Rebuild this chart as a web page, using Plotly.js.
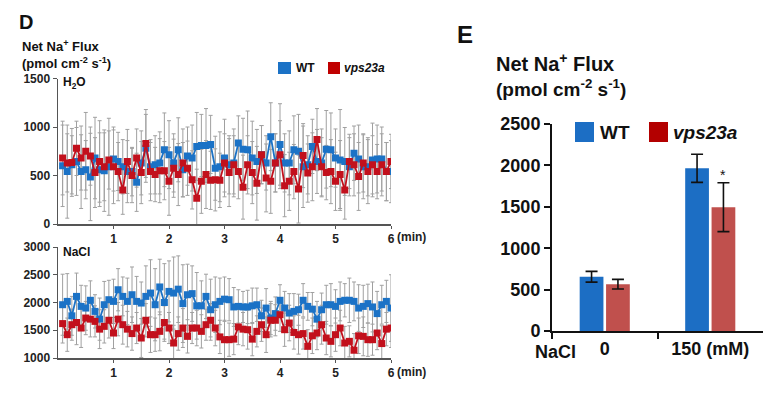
<!DOCTYPE html>
<html>
<head>
<meta charset="utf-8">
<script src="https://cdn.plot.ly/plotly-3.0.1.min.js"></script>
<style>html,body{margin:0;padding:0;background:#fff;}#chart{width:779px;height:397px;}</style>
</head>
<body>
<div id="chart"></div>
<script>
// ---- Panel D data: time (s) and net Na+ flux ----
var timeSec = [
  5,10,15,20,25,30,35,40,45,50,55,60,
  65,70,75,80,85,90,95,100,105,110,115,120,
  125,130,135,140,145,150,155,160,165,170,175,180,
  185,190,195,200,205,210,215,220,225,230,235,240,
  245,250,255,260,265,270,275,280,285,290,295,300,
  305,310,315,320,325,330,335,340,345,350,355,360
];
var h2oWT = [
  600,540,610,645,540,560,485,680,560,550,590,670,
  645,590,540,540,430,630,780,590,610,630,765,715,
  630,765,560,700,680,800,810,810,820,575,590,680,
  610,630,835,770,765,680,645,715,630,900,630,820,
  630,630,765,750,590,610,800,645,630,770,765,680,
  660,645,590,730,670,590,590,660,670,670,540,540
];
var h2oWTerr = [
  420,480,300,350,380,300,450,420,380,420,500,330,
  300,280,320,250,300,330,350,280,300,320,380,350,
  300,330,280,300,340,350,320,380,300,330,360,400,
  300,350,280,320,400,380,330,300,280,350,300,420,
  300,330,350,380,420,300,280,330,350,400,380,300,
  520,350,300,280,350,330,300,380,350,330,300,320
];
var h2oMut = [
  680,630,635,780,680,750,700,530,645,590,660,590,
  540,350,645,500,680,530,830,540,510,550,550,440,
  575,510,630,575,455,265,440,510,450,455,450,630,
  530,610,540,380,610,530,420,715,475,440,630,715,
  395,440,540,360,705,525,590,870,590,530,540,440,
  510,350,645,610,490,630,540,610,540,610,540,645
];
var h2oMutErr = [
  380,300,350,280,330,400,300,360,420,350,300,380,
  300,250,330,280,300,320,350,300,280,330,300,350,
  300,320,350,280,300,300,330,350,300,320,280,300,
  350,300,280,330,300,320,380,300,350,330,300,350,
  320,300,280,350,330,300,350,320,300,280,330,300,
  350,300,280,320,350,300,330,300,280,320,300,280
];
var naclWT = [
  1960,2020,1760,2110,1930,1900,2040,1840,1700,1960,2050,2020,
  2230,2110,2020,2140,2020,1990,2110,2170,1960,2280,2000,2200,
  2170,2240,1980,2140,2160,1940,1940,2110,1870,1960,2020,2060,
  2050,1920,1930,1920,1920,1940,1960,1760,1900,1720,1800,2040,
  1900,1810,1840,1870,2040,1930,1880,1700,1870,1960,1960,1930,
  2020,2040,2040,2020,1900,1930,1980,1920,1800,1960,2020,1900
];
var naclWTerr = [
  550,500,350,420,380,400,350,300,380,420,350,400,
  380,350,420,500,450,380,550,600,650,500,700,550,
  650,600,700,550,500,600,450,400,550,500,420,400,
  380,350,300,280,300,320,300,280,350,300,300,280,
  300,350,320,280,300,250,300,320,300,350,380,300,
  350,300,400,350,420,380,350,450,400,350,380,600
];
var naclMut = [
  1620,1420,1600,1640,1540,1720,1700,1660,1520,1570,1680,1450,
  1700,1600,1520,1440,1540,1360,1680,1420,1420,1480,1640,1540,
  1270,1440,1540,1390,1540,1540,1480,1600,1680,1540,1380,1330,
  1330,1340,1560,1520,1510,1340,1480,1600,1420,1680,1680,1780,
  1510,1630,1460,1420,1440,1210,1400,1450,1600,1360,1300,1420,
  1540,1270,1300,1140,1400,1390,1330,1330,1450,1260,1520,1540
];
var naclMutErr = [
  350,300,280,400,350,300,320,280,350,300,320,280,
  300,350,320,300,280,350,300,320,300,350,300,280,
  320,300,350,300,280,320,300,280,300,320,300,350,
  300,280,320,300,350,300,280,300,320,300,280,300,
  300,320,300,350,280,300,320,300,350,300,280,300,
  320,300,280,300,320,350,300,280,300,320,300,350
];
var xTickVals = [1,2,3,4,5,6];
var xTickText = ['1','2','3','4','5','6'];

// ---- Panel E data ----
var naclConcLabels = ['0','150 (mM)'];
var barWT = [655, 1965];
var barWTerr = [65, 170];
var barMut = [565, 1495];
var barMutErr = [58, 295];

var seriesNames = ['WT','vps23a'];

// ---- styling ----
var FONT = 'Liberation Sans, Arial, sans-serif';
var BLUE = '#1b72c6';
var RED = '#c2101c';
var BAR_BLUE = '#1c6ec4';
var BAR_RED = '#c0504d';
var W = 779, H = 397;
function px(x){return x/W;}
function py(y){return 1 - y/H;}

var tMin = timeSec.map(function(s){return s/60;});

function errTrace(y, e, xa, ya){
  return {x:tMin, y:y, xaxis:xa, yaxis:ya, type:'scatter', mode:'markers',
    marker:{opacity:0,size:1}, showlegend:false, hoverinfo:'skip',
    error_y:{type:'data', array:e, visible:true, color:'#a0a0a0', thickness:1, width:2}};
}
function lineTrace(y, color, name, xa, ya){
  return {x:tMin, y:y, xaxis:xa, yaxis:ya, type:'scatter', mode:'lines+markers', name:name,
    line:{color:color, width:1.8}, marker:{color:color, size:7, symbol:'square'}, showlegend:false};
}

var data = [
  errTrace(h2oWT, h2oWTerr, 'x', 'y'),
  errTrace(h2oMut, h2oMutErr, 'x', 'y'),
  errTrace(naclWT, naclWTerr, 'x2', 'y2'),
  errTrace(naclMut, naclMutErr, 'x2', 'y2'),
  lineTrace(h2oWT, BLUE, seriesNames[0], 'x', 'y'),
  lineTrace(h2oMut, RED, seriesNames[1], 'x', 'y'),
  lineTrace(naclWT, BLUE, seriesNames[0], 'x2', 'y2'),
  lineTrace(naclMut, RED, seriesNames[1], 'x2', 'y2'),
  {x:naclConcLabels, y:barWT, xaxis:'x3', yaxis:'y3', type:'bar', name:seriesNames[0],
   marker:{color:BAR_BLUE}, showlegend:false,
   error_y:{type:'data', array:barWTerr, visible:true, color:'#111', thickness:1.6, width:6}},
  {x:naclConcLabels, y:barMut, xaxis:'x3', yaxis:'y3', type:'bar', name:seriesNames[1],
   marker:{color:BAR_RED}, showlegend:false,
   error_y:{type:'data', array:barMutErr, visible:true, color:'#111', thickness:1.6, width:6}}
];

var tickFontD = {family:FONT, size:12, color:'#222', weight:700};
var tickFontE = {family:FONT, size:18, color:'#111', weight:700};

function dX(anchor){
  return {domain:[px(58), px(391)], range:[0,6], anchor:anchor, showgrid:false, zeroline:false,
    showline:true, linecolor:'#555', linewidth:1.5, ticks:'outside', ticklen:3, tickcolor:'#555',
    tickvals:xTickVals, ticktext:xTickText, tickfont:tickFontD, fixedrange:true};
}

var layout = {
  width:W, height:H, margin:{l:0,r:0,t:0,b:0},
  paper_bgcolor:'#fff', plot_bgcolor:'rgba(0,0,0,0)',
  showlegend:false, bargap:0.5, bargroupgap:0.1, barmode:'group',
  font:{family:FONT},
  xaxis: dX('y'),
  yaxis:{domain:[py(224), py(78.5)], range:[0,1500], anchor:'x', showgrid:false, zeroline:false,
    showline:true, linecolor:'#555', linewidth:1.5, ticks:'outside', ticklen:4, tickcolor:'#555',
    tickvals:[0,500,1000,1500], tickfont:tickFontD},
  xaxis2: dX('y2'),
  yaxis2:{domain:[py(358), py(247)], range:[1000,3000], anchor:'x2', showgrid:false, zeroline:false,
    showline:true, linecolor:'#555', linewidth:1.5, ticks:'outside', ticklen:4, tickcolor:'#555',
    tickvals:[1000,1500,2000,2500,3000], tickfont:tickFontD},
  xaxis3:{domain:[px(552), px(763)], anchor:'y3', type:'category', range:[-0.5,1.5], showgrid:false, zeroline:false,
    showline:true, linecolor:'#111', linewidth:2, ticks:'outside', ticklen:6, tickwidth:2, tickcolor:'#111',
    tickson:'boundaries', tickfont:tickFontE},
  yaxis3:{domain:[py(331), py(124)], range:[0,2500], anchor:'x3', showgrid:false, zeroline:false,
    showline:true, linecolor:'#111', linewidth:2, ticks:'outside', ticklen:6, tickwidth:2, tickcolor:'#111',
    tickvals:[0,500,1000,1500,2000,2500], tickfont:tickFontE},
  shapes:[
    {type:'rect', xref:'paper', yref:'paper', x0:px(278), x1:px(291), y0:py(74), y1:py(62), fillcolor:BLUE, line:{width:0}},
    {type:'rect', xref:'paper', yref:'paper', x0:px(328), x1:px(340), y0:py(74), y1:py(62), fillcolor:'#c00000', line:{width:0}},
    {type:'rect', xref:'paper', yref:'paper', x0:px(575), x1:px(594), y0:py(142), y1:py(122), fillcolor:BAR_BLUE, line:{width:0}},
    {type:'rect', xref:'paper', yref:'paper', x0:px(649), x1:px(668), y0:py(142), y1:py(122), fillcolor:'#b30000', line:{width:0}}
  ],
  annotations:[
    {text:'D', xref:'paper', yref:'paper', x:px(17), y:py(22), xanchor:'left', yanchor:'middle', showarrow:false,
     font:{family:FONT, size:20, color:'#111', weight:700}},
    {text:'Net Na<sup>+</sup> Flux', xref:'paper', yref:'paper', x:px(20), y:py(46), xanchor:'left', yanchor:'middle', showarrow:false,
     font:{family:FONT, size:13, color:'#111', weight:700}},
    {text:'(pmol cm<sup>-2</sup> s<sup>-1</sup>)', xref:'paper', yref:'paper', x:px(20), y:py(63), xanchor:'left', yanchor:'middle', showarrow:false,
     font:{family:FONT, size:13, color:'#111', weight:700}},
    {text:'H<sub>2</sub>O', xref:'paper', yref:'paper', x:px(61), y:py(83), xanchor:'left', yanchor:'middle', showarrow:false,
     font:{family:FONT, size:12, color:'#111', weight:700}},
    {text:'NaCl', xref:'paper', yref:'paper', x:px(61), y:py(252), xanchor:'left', yanchor:'middle', showarrow:false,
     font:{family:FONT, size:12, color:'#111', weight:700}},
    {text:'(min)', xref:'x', yref:'paper', x:6, y:py(237), xanchor:'left', yanchor:'middle', xshift:4, showarrow:false,
     font:{family:FONT, size:12, color:'#222', weight:700}},
    {text:'(min)', xref:'x2', yref:'paper', x:6, y:py(372), xanchor:'left', yanchor:'middle', xshift:4, showarrow:false,
     font:{family:FONT, size:12, color:'#222', weight:700}},
    {text:seriesNames[0], xref:'paper', yref:'paper', x:px(294), y:py(68), xanchor:'left', yanchor:'middle', showarrow:false,
     font:{family:FONT, size:12, color:'#111', weight:700}},
    {text:'<i>'+seriesNames[1]+'</i>', xref:'paper', yref:'paper', x:px(342), y:py(68), xanchor:'left', yanchor:'middle', showarrow:false,
     font:{family:FONT, size:12, color:'#111', weight:700}},
    {text:'E', xref:'paper', yref:'paper', x:px(455), y:py(34), xanchor:'left', yanchor:'middle', showarrow:false,
     font:{family:FONT, size:24, color:'#111', weight:700}},
    {text:'Net Na<sup>+</sup> Flux', xref:'paper', yref:'paper', x:px(494), y:py(62), xanchor:'left', yanchor:'middle', showarrow:false,
     font:{family:FONT, size:20, color:'#111', weight:700}},
    {text:'(pmol cm<sup>-2</sup> s<sup>-1</sup>)', xref:'paper', yref:'paper', x:px(494), y:py(88), xanchor:'left', yanchor:'middle', showarrow:false,
     font:{family:FONT, size:19, color:'#111', weight:700}},
    {text:seriesNames[0], xref:'paper', yref:'paper', x:px(598), y:py(132), xanchor:'left', yanchor:'middle', showarrow:false,
     font:{family:FONT, size:19, color:'#111', weight:700}},
    {text:'<i>'+seriesNames[1]+'</i>', xref:'paper', yref:'paper', x:px(671), y:py(132), xanchor:'left', yanchor:'middle', showarrow:false,
     font:{family:FONT, size:19, color:'#111', weight:700}},
    {text:'NaCl', xref:'paper', yref:'paper', x:px(555), y:py(352), xanchor:'center', yanchor:'middle', showarrow:false,
     font:{family:FONT, size:18, color:'#111', weight:700}},
    {text:'*', xref:'x3', yref:'y3', x:1, y:barMut[1]+barMutErr[1], xanchor:'center', yanchor:'bottom',
     xshift:13, yshift:-2, showarrow:false, font:{family:FONT, size:14, color:'#111'}}
  ]
};

Plotly.newPlot('chart', data, layout, {staticPlot:true, displayModeBar:false});
</script>
</body>
</html>
